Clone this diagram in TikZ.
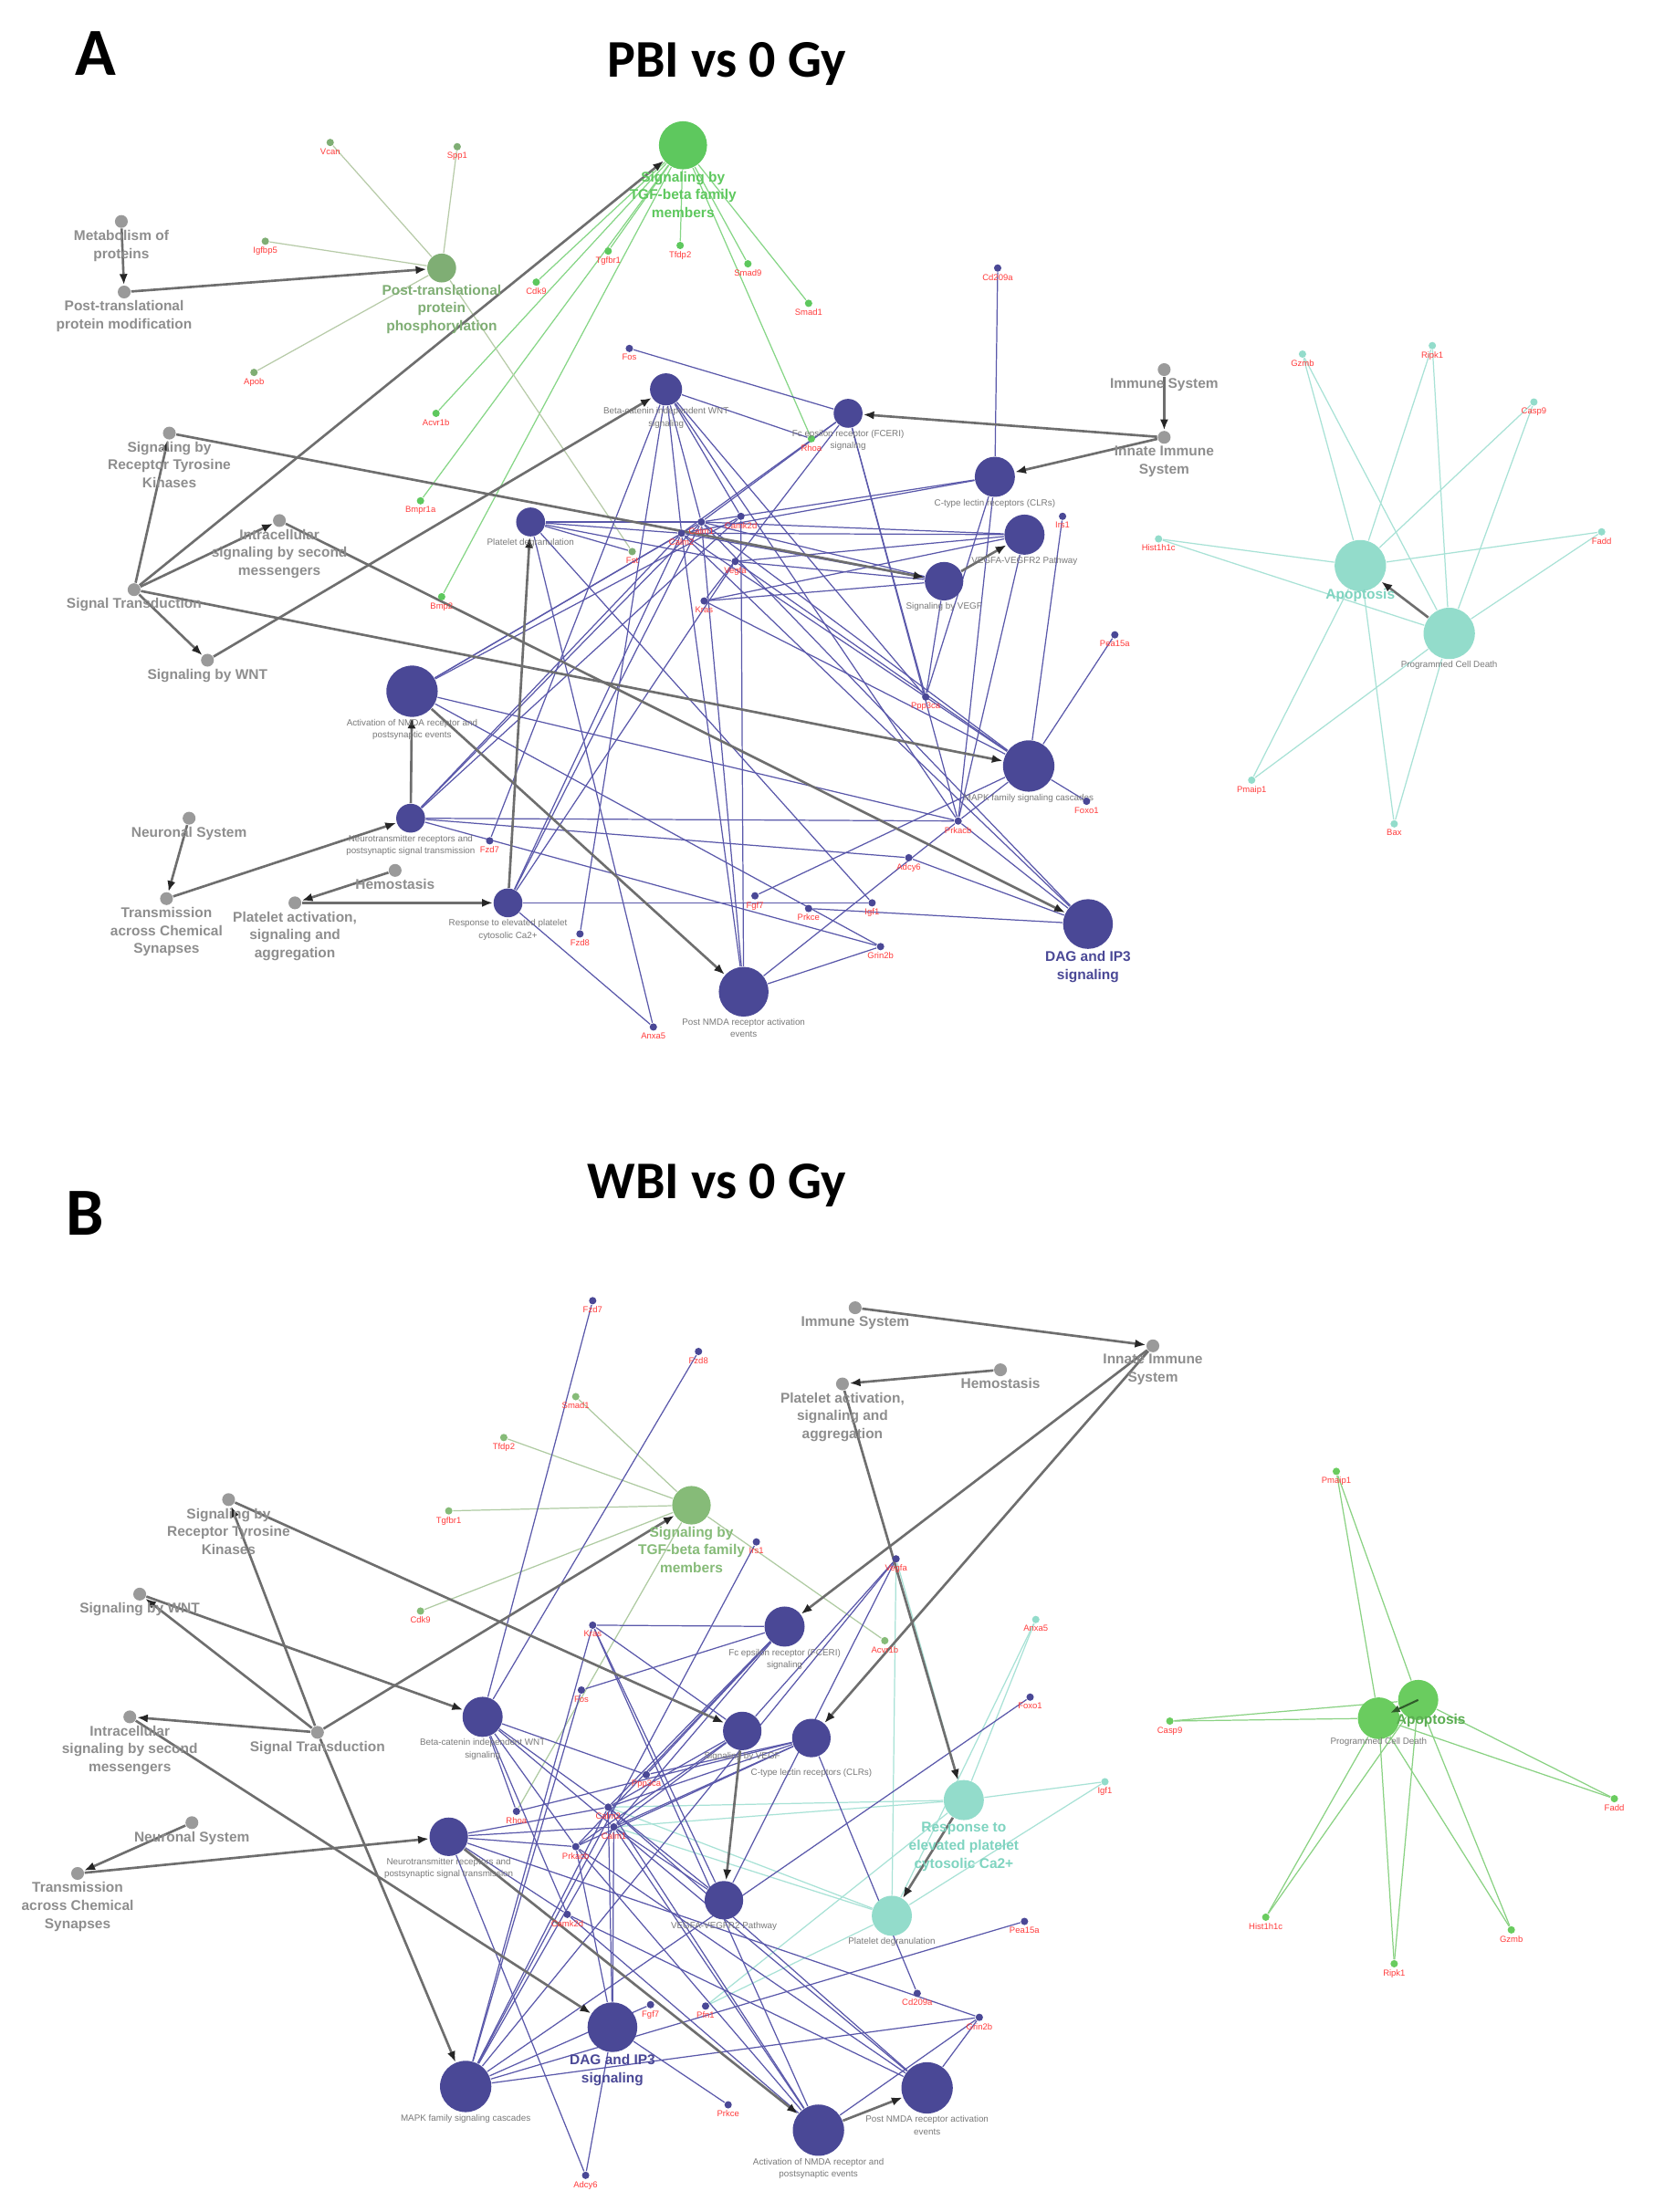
\documentclass[tikz,border=0pt]{standalone}
\usepackage{fontspec}
\setmainfont{Liberation Sans}
\newfontfamily\titlefont{Carlito}
\usetikzlibrary{arrows.meta,backgrounds}

\definecolor{greynode}{HTML}{9A9A9A}
\definecolor{greytxt}{HTML}{8E8E8E}
\definecolor{arrowgrey}{HTML}{6E6E6E}
\definecolor{pathw}{HTML}{4A4896}
\definecolor{pedgec}{HTML}{5A58AA}
\definecolor{genered}{HTML}{FF3C3C}
\definecolor{tgfgreen}{HTML}{5EC85E}
\definecolor{tgfedge}{HTML}{86D686}
\definecolor{ptpgreen}{HTML}{7FAE74}
\definecolor{ptpedge}{HTML}{B7CBA8}
\definecolor{apoteal}{HTML}{93DCCB}
\definecolor{tealtxt}{HTML}{7FD4C0}
\definecolor{tealedge}{HTML}{A8E2D6}
\definecolor{tgfolive}{HTML}{86BB78}
\definecolor{oliveedge}{HTML}{AFCBA2}
\definecolor{apogreen}{HTML}{6ACC5F}
\definecolor{apoedge}{HTML}{8AD283}

\begin{document}
\begin{tikzpicture}[x=0.01546cm,y=-0.01546cm,
  gdot/.style={circle,fill=greynode,inner sep=0pt,minimum size=4pt},
  pw/.style={circle,fill=pathw,inner sep=0pt,minimum size=#1},
  gn/.style={circle,fill=#1,inner sep=0pt,minimum size=2.3pt},
  glab/.style={font=\fontsize{4.4}{5.6}\selectfont\bfseries,text=greytxt,align=center,inner sep=0.3pt},
  blab/.style={font=\fontsize{4.4}{5.6}\selectfont\bfseries,text=#1,align=center,inner sep=0.3pt},
  slab/.style={font=\fontsize{2.8}{3.8}\selectfont,text=greytxt!85!black,align=center,inner sep=0.3pt},
  rlab/.style={font=\fontsize{2.7}{3}\selectfont,text=genered,inner sep=0.3pt},
  arr/.style={draw=arrowgrey,line width=0.75pt,-{Latex[length=3.4pt,width=2.6pt,color=black!85]}},
  pe/.style={draw=pedgec,line width=0.35pt},
  ge/.style={draw=#1,line width=0.35pt},
  ttl/.style={font=\titlefont\bfseries\fontsize{#1}{#1}\selectfont}]
\path[use as bounding box] (0,0) rectangle (1172,1568);

\node[ttl=21] (panA) at (68,38) {A};
\node[ttl=16.5] (titA) at (515,45) {PBI vs 0 Gy};
\node[ttl=21] (panB) at (60,860) {B};
\node[ttl=16.5] (titB) at (508,840) {WBI vs 0 Gy};

% panel A: grey hierarchy
\node[gdot,label={[glab]below:{Metabolism of\\proteins}}] (metaA) at (86,157) {};
\node[gdot,label={[glab]below:{Post-translational\\protein modification}}] (ptmA) at (88,207) {};
\node[gdot,label={[glab]below:{Signaling by\\Receptor Tyrosine\\Kinases}}] (rtkA) at (120,307) {};
\node[gdot,label={[glab]below:{Intracellular\\signaling by second\\messengers}}] (intraA) at (198,369) {};
\node[gdot,label={[glab]below:Signal Transduction}] (stA) at (95,418) {};
\node[gdot,label={[glab]below:Signaling by WNT}] (wntA) at (147,468) {};
\node[gdot,label={[glab]below:Neuronal System}] (neurA) at (134,580) {};
\node[gdot,label={[glab]below:{Transmission\\across Chemical\\Synapses}}] (transA) at (118,637) {};
\node[gdot,label={[glab]below:Hemostasis}] (hemoA) at (280,617) {};
\node[gdot,label={[glab]below:{Platelet activation,\\signaling and\\aggregation}}] (platA) at (209,640) {};
\node[gdot,label={[glab]below:Immune System}] (immA) at (825,262) {};
\node[gdot,label={[glab]below:{Innate Immune\\System}}] (innA) at (825,310) {};

% panel A: TGF-beta and phosphorylation
\node[circle,fill=tgfgreen,minimum size=15pt,inner sep=0pt,label={[blab=tgfgreen]below:{Signaling by\\TGF-beta family\\members}}] (tgfA) at (484,103) {};
\node[circle,fill=ptpgreen,minimum size=9pt,inner sep=0pt,label={[blab=ptpgreen]below:{Post-translational\\protein\\phosphorylation}}] (ptpA) at (313,190) {};
\node[gn=ptpgreen,label={[rlab]below:Vcan}] (vcanA) at (234,101) {};
\node[gn=ptpgreen,label={[rlab]below:Spp1}] (sppA) at (324,104) {};
\node[gn=ptpgreen,label={[rlab]below:Igfbp5}] (igfbpA) at (188,171) {};
\node[gn=ptpgreen,label={[rlab]below:Apob}] (apobA) at (180,264) {};
\node[gn=ptpgreen,label={[rlab]below:Fst}] (fstA) at (448,391) {};
\node[gn=tgfgreen,label={[rlab]below:Tgfbr1}] (tgfbrA) at (431,178) {};
\node[gn=tgfgreen,label={[rlab]below:Tfdp2}] (tfdpA) at (482,174) {};
\node[gn=tgfgreen,label={[rlab]below:Smad9}] (smadnA) at (530,187) {};
\node[gn=tgfgreen,label={[rlab]below:Smad1}] (smadoA) at (573,215) {};
\node[gn=tgfgreen,label={[rlab]below:Cdk9}] (cdkA) at (380,200) {};
\node[gn=tgfgreen,label={[rlab]below:Acvr1b}] (acvrA) at (309,293) {};
\node[gn=tgfgreen,label={[rlab]below:Bmpr1a}] (bmprA) at (298,355) {};
\node[gn=tgfgreen,label={[rlab]below:Bmp2}] (bmpA) at (313,423) {};
\node[gn=tgfgreen,label={[rlab]below:Rhoa}] (rhoaA) at (575,311) {};

% panel A: pathways
\node[pw=10pt,label={[slab]below:{Beta-catenin independent WNT\\signaling}}] (wntbA) at (472,276) {};
\node[pw=9pt,label={[slab]below:{Fc epsilon receptor (FCERI)\\signaling}}] (fcA) at (601,293) {};
\node[pw=12.5pt,label={[slab]below:C-type lectin receptors (CLRs)}] (clrA) at (705,338) {};
\node[pw=12.5pt,label={[slab]below:VEGFA-VEGFR2 Pathway}] (vegfrA) at (726,379) {};
\node[pw=12pt,label={[slab]below:Signaling by VEGF}] (vegfA) at (669,412) {};
\node[pw=9pt,label={[slab]below:Platelet degranulation}] (pdegA) at (376,370) {};
\node[pw=16pt,label={[slab]below:{Activation of NMDA receptor and\\postsynaptic events}}] (nmdaA) at (292,490) {};
\node[pw=9pt,label={[slab]below:{Neurotransmitter receptors and\\postsynaptic signal transmission}}] (neuroA) at (291,580) {};
\node[pw=9pt,label={[slab]below:{Response to elevated platelet\\cytosolic Ca2+}}] (respA) at (360,640) {};
\node[pw=16pt,label={[slab]below:MAPK family signaling cascades}] (mapkA) at (729,543) {};
\node[pw=15.5pt,label={[slab]below:{Post NMDA receptor activation\\events}}] (postA) at (527,703) {};
\node[pw=15.5pt,label={[blab=pathw]below:{DAG and IP3\\signaling}}] (dagA) at (771,655) {};

% panel A: genes
\node[gn=pathw,label={[rlab]below:Fos}] (fosA) at (446,247) {};
\node[gn=pathw,label={[rlab]below:Cd209a}] (cdA) at (707,190) {};
\node[gn=pathw,label={[rlab]below:Calm1}] (calmoneA) at (497,370) {};
\node[gn=pathw,label={[rlab]below:Calm2}] (calmtwoA) at (483,378) {};
\node[gn=pathw,label={[rlab]below:Camk2d}] (camkA) at (525,366) {};
\node[gn=pathw,label={[rlab]below:Vegfa}] (vegfaA) at (521,398) {};
\node[gn=pathw,label={[rlab]below:Kras}] (krasA) at (499,426) {};
\node[gn=pathw,label={[rlab]below:Irs1}] (irsA) at (753,366) {};
\node[gn=pathw,label={[rlab]below:Ppp3ca}] (pppA) at (656,494) {};
\node[gn=pathw,label={[rlab]below:Pea15a}] (peaA) at (790,450) {};
\node[gn=pathw,label={[rlab]below:Foxo1}] (foxoA) at (770,568) {};
\node[gn=pathw,label={[rlab]below:Prkacb}] (prkacbA) at (679,582) {};
\node[gn=pathw,label={[rlab]below:Fzd7}] (fzdsA) at (347,596) {};
\node[gn=pathw,label={[rlab]below:Adcy6}] (adcyA) at (644,608) {};
\node[gn=pathw,label={[rlab]below:Fgf7}] (fgfA) at (535,635) {};
\node[gn=pathw,label={[rlab]below:Prkce}] (prkceA) at (573,644) {};
\node[gn=pathw,label={[rlab]below:Igf1}] (igfA) at (618,640) {};
\node[gn=pathw,label={[rlab]below:Grin2b}] (grinA) at (624,671) {};
\node[gn=pathw,label={[rlab]below:Fzd8}] (fzdeA) at (411,662) {};
\node[gn=pathw,label={[rlab]below:Anxa5}] (anxaA) at (463,728) {};

% panel A: cell death
\node[circle,fill=apoteal,minimum size=16pt,inner sep=0pt,label={[blab=tealtxt,label distance=-1.5pt]below:Apoptosis}] (apoA) at (964,401) {};
\node[circle,fill=apoteal,minimum size=16pt,inner sep=0pt,label={[slab]below:Programmed Cell Death}] (pcdA) at (1027,449) {};
\node[gn=apoteal,label={[rlab]below:Gzmb}] (gzmbA) at (923,251) {};
\node[gn=apoteal,label={[rlab]below:Ripk1}] (ripkA) at (1015,245) {};
\node[gn=apoteal,label={[rlab]below:Casp9}] (caspA) at (1087,285) {};
\node[gn=apoteal,label={[rlab]below:Hist1h1c}] (histA) at (821,382) {};
\node[gn=apoteal,label={[rlab]below:Fadd}] (faddA) at (1135,377) {};
\node[gn=apoteal,label={[rlab]below:Pmaip1}] (pmaipA) at (887,553) {};
\node[gn=apoteal,label={[rlab]below:Bax}] (baxA) at (988,584) {};

% panel B: grey hierarchy
\node[gdot,label={[glab]below:Immune System}] (immB) at (606,927) {};
\node[gdot,label={[glab]below:{Innate Immune\\System}}] (innB) at (817,954) {};
\node[gdot,label={[glab]below:Hemostasis}] (hemoB) at (709,971) {};
\node[gdot,label={[glab]below:{Platelet activation,\\signaling and\\aggregation}}] (platB) at (597,981) {};
\node[gdot,label={[glab]below:{Signaling by\\Receptor Tyrosine\\Kinases}}] (rtkB) at (162,1063) {};
\node[gdot,label={[glab]below:Signaling by WNT}] (wntB) at (99,1130) {};
\node[gdot,label={[glab]below:{Intracellular\\signaling by second\\messengers}}] (intraB) at (92,1217) {};
\node[gdot,label={[glab]below:Signal Transduction}] (stB) at (225,1228) {};
\node[gdot,label={[glab]below:Neuronal System}] (neurB) at (136,1292) {};
\node[gdot,label={[glab]below:{Transmission\\across Chemical\\Synapses}}] (transB) at (55,1328) {};

% panel B: TGF-beta
\node[circle,fill=tgfolive,minimum size=12pt,inner sep=0pt,label={[blab=tgfolive]below:{Signaling by\\TGF-beta family\\members}}] (tgfB) at (490,1067) {};
\node[gn=tgfolive,label={[rlab]below:Smad1}] (smadB) at (408,990) {};
\node[gn=tgfolive,label={[rlab]below:Tfdp2}] (tfdpB) at (357,1019) {};
\node[gn=tgfolive,label={[rlab]below:Tgfbr1}] (tgfbrB) at (318,1071) {};
\node[gn=tgfolive,label={[rlab]below:Cdk9}] (cdkB) at (298,1142) {};
\node[gn=tgfolive,label={[rlab]below:Acvr1b}] (acvrB) at (627,1163) {};

% panel B: pathways
\node[pw=12.5pt,label={[slab]below:{Fc epsilon receptor (FCERI)\\signaling}}] (fcB) at (556,1153) {};
\node[pw=12.5pt,label={[slab]below:{Beta-catenin independent WNT\\signaling}}] (wntbB) at (342,1217) {};
\node[pw=12pt,label={[slab]below:Signaling by VEGF}] (vegfB) at (526,1227) {};
\node[pw=12pt,label={[slab,yshift=-3pt]below:C-type lectin receptors (CLRs)}] (clrB) at (575,1232) {};
\node[pw=12pt,label={[slab]below:{Neurotransmitter receptors and\\postsynaptic signal transmission}}] (neuroB) at (318,1302) {};
\node[pw=12pt,label={[slab]below:VEGFA-VEGFR2 Pathway}] (vegfrB) at (513,1347) {};
\node[pw=15.5pt,label={[blab=pathw]below:{DAG and IP3\\signaling}}] (dagB) at (434,1437) {};
\node[pw=16pt,label={[slab]below:MAPK family signaling cascades}] (mapkB) at (330,1479) {};
\node[pw=16pt,label={[slab]below:{Activation of NMDA receptor and\\postsynaptic events}}] (nmdaB) at (580,1510) {};
\node[pw=16pt,label={[slab]below:{Post NMDA receptor activation\\events}}] (postB) at (657,1480) {};
\node[circle,fill=apoteal,minimum size=12.5pt,inner sep=0pt,label={[blab=tealtxt]below:{Response to\\elevated platelet\\cytosolic Ca2+}}] (respB) at (683,1276) {};
\node[circle,fill=apoteal,minimum size=12.5pt,inner sep=0pt,label={[slab]below:Platelet degranulation}] (pdegB) at (632,1358) {};

% panel B: genes
\node[gn=pathw,label={[rlab]below:Fzd7}] (fzdsB) at (420,922) {};
\node[gn=pathw,label={[rlab]below:Fzd8}] (fzdeB) at (495,958) {};
\node[gn=pathw,label={[rlab]below:Irs1}] (irsB) at (536,1093) {};
\node[gn=pathw,label={[rlab]below:Vegfa}] (vegfaB) at (635,1105) {};
\node[gn=apoteal,label={[rlab]below:Anxa5}] (anxaB) at (734,1148) {};
\node[gn=pathw,label={[rlab]below:Foxo1}] (foxoB) at (730,1203) {};
\node[gn=apoteal,label={[rlab]below:Igf1}] (igfB) at (783,1263) {};
\node[gn=pathw,label={[rlab]below:Kras}] (krasB) at (420,1152) {};
\node[gn=pathw,label={[rlab]below:Fos}] (fosB) at (412,1198) {};
\node[gn=pathw,label={[rlab]below:Rhoa}] (rhoaB) at (366,1284) {};
\node[gn=pathw,label={[rlab]below:Ppp3ca}] (pppB) at (458,1258) {};
\node[gn=pathw,label={[rlab]below:Calm2}] (calmtwoB) at (431,1281) {};
\node[gn=pathw,label={[rlab]below:Calm1}] (calmoneB) at (435,1295) {};
\node[gn=pathw,label={[rlab]below:Prkacb}] (prkacbB) at (408,1309) {};
\node[gn=pathw,label={[rlab]below:Camk2d}] (camkB) at (402,1357) {};
\node[gn=pathw,label={[rlab]below:Pea15a}] (peaB) at (726,1362) {};
\node[gn=pathw,label={[rlab]below:Cd209a}] (cdB) at (650,1413) {};
\node[gn=pathw,label={[rlab]below:Grin2b}] (grinB) at (694,1430) {};
\node[gn=pathw,label={[rlab]below:Fgf7}] (fgfB) at (461,1421) {};
\node[gn=pathw,label={[rlab]below:Pfn1}] (pfnB) at (500,1422) {};
\node[gn=pathw,label={[rlab]below:Prkce}] (prkceB) at (516,1492) {};
\node[gn=pathw,label={[rlab]below:Adcy6}] (adcyB) at (415,1542) {};

% panel B: cell death
\node[circle,fill=apogreen,minimum size=13pt,inner sep=0pt,label={[slab,label distance=-1pt]below:Programmed Cell Death}] (pcdB) at (977,1218) {};
\node[circle,fill=apogreen,minimum size=12.5pt,inner sep=0pt,label={[blab=apogreen!85!black,label distance=-2.5pt,xshift=4pt]below:Apoptosis}] (apoB) at (1005,1205) {};
\node[gn=apogreen,label={[rlab]below:Pmaip1}] (pmaipB) at (947,1043) {};
\node[gn=apogreen,label={[rlab]below:Casp9}] (caspB) at (829,1220) {};
\node[gn=apogreen,label={[rlab]below:Fadd}] (faddB) at (1144,1275) {};
\node[gn=apogreen,label={[rlab]below:Hist1h1c}] (histB) at (897,1359) {};
\node[gn=apogreen,label={[rlab]below:Ripk1}] (ripkB) at (988,1392) {};
\node[gn=apogreen,label={[rlab]below:Gzmb}] (gzmbB) at (1071,1368) {};
\draw[draw=black!55!apogreen,line width=0.6pt,-{Latex[length=3pt,width=2.4pt]},shorten >=4pt] (apoB.center) -- (pcdB.center);

\begin{scope}[on background layer]
\fill[white] (0,0) rectangle (1172,1568);
% panel A edges
\foreach \g in {tgfbrA,tfdpA,smadnA,smadoA,cdkA,acvrA,bmprA,bmpA,rhoaA} \draw[ge=tgfedge] (tgfA) -- (\g);
\foreach \g in {vcanA,sppA,igfbpA,apobA,fstA} \draw[ge=ptpedge] (ptpA) -- (\g);
\foreach \g in {gzmbA,ripkA,caspA,histA,faddA,pmaipA,baxA} {
  \draw[ge=tealedge] (apoA) -- (\g);
  \draw[ge=tealedge] (pcdA) -- (\g);
}
\foreach \g in {calmoneA,calmtwoA,camkA,pppA,prkacbA,fzdsA,fzdeA,rhoaA} \draw[pe] (wntbA) -- (\g);
\foreach \g in {fosA,calmoneA,calmtwoA,krasA,pppA,prkacbA} \draw[pe] (fcA) -- (\g);
\foreach \g in {cdA,calmoneA,calmtwoA,pppA,prkacbA} \draw[pe] (clrA) -- (\g);
\foreach \g in {calmoneA,calmtwoA,vegfaA,krasA,prkacbA} \draw[pe] (vegfrA) -- (\g);
\foreach \g in {calmoneA,calmtwoA,vegfaA,krasA,pppA} \draw[pe] (vegfA) -- (\g);
\foreach \g in {calmoneA,calmtwoA,fstA,vegfaA,igfA,anxaA} \draw[pe] (pdegA) -- (\g);
\foreach \g in {calmoneA,calmtwoA,camkA,prkacbA,grinA} \draw[pe] (nmdaA) -- (\g);
\foreach \g in {calmoneA,calmtwoA,camkA,prkacbA,adcyA,grinA} \draw[pe] (neuroA) -- (\g);
\foreach \g in {calmoneA,calmtwoA,igfA,anxaA,vegfaA} \draw[pe] (respA) -- (\g);
\foreach \g in {calmoneA,calmtwoA,krasA,vegfaA,prkacbA,foxoA,peaA,fgfA,irsA} \draw[pe] (mapkA) -- (\g);
\foreach \g in {calmoneA,calmtwoA,camkA,prkacbA,grinA} \draw[pe] (postA) -- (\g);
\foreach \g in {calmoneA,calmtwoA,prkceA,adcyA,prkacbA} \draw[pe] (dagA) -- (\g);
\draw[arr] (metaA) -- (ptmA);
\draw[arr] (ptmA) -- (ptpA);
\foreach \t in {rtkA,intraA,wntA,tgfA,mapkA} \draw[arr] (stA) -- (\t);
\draw[arr] (rtkA) -- (vegfA);
\draw[arr] (intraA) -- (dagA);
\draw[arr] (wntA) -- (wntbA);
\draw[arr] (neuroA) -- (nmdaA);
\draw[arr] (nmdaA) -- (postA);
\draw[arr] (neurA) -- (transA);
\draw[arr] (transA) -- (neuroA);
\draw[arr] (hemoA) -- (platA);
\draw[arr] (platA) -- (respA);
\draw[arr] (respA) -- (pdegA);
\draw[arr] (immA) -- (innA);
\draw[arr] (innA) -- (fcA);
\draw[arr] (innA) -- (clrA);
\draw[arr] (vegfA) -- (vegfrA);
\draw[arr] (pcdA) -- (apoA);

% panel B edges
\foreach \g in {smadB,tfdpB,tgfbrB,cdkB,acvrB,rhoaB} \draw[ge=oliveedge] (tgfB) -- (\g);
\foreach \g in {pmaipB,caspB,faddB,histB,ripkB,gzmbB} {
  \draw[ge=apoedge] (apoB) -- (\g);
  \draw[ge=apoedge] (pcdB) -- (\g);
}
\foreach \g in {calmoneB,calmtwoB,igfB,anxaB,vegfaB,pfnB} {
  \draw[ge=tealedge] (respB) -- (\g);
  \draw[ge=tealedge] (pdegB) -- (\g);
}
\foreach \g in {fzdsB,fzdeB,calmoneB,calmtwoB,camkB,pppB,prkacbB,rhoaB} \draw[pe] (wntbB) -- (\g);
\foreach \g in {fosB,krasB,calmoneB,calmtwoB,pppB,prkacbB} \draw[pe] (fcB) -- (\g);
\foreach \g in {calmoneB,calmtwoB,krasB,vegfaB,prkacbB} \draw[pe] (vegfB) -- (\g);
\foreach \g in {cdB,calmoneB,calmtwoB,pppB,prkacbB,rhoaB} \draw[pe] (clrB) -- (\g);
\foreach \g in {calmoneB,calmtwoB,krasB,vegfaB} \draw[pe] (vegfrB) -- (\g);
\foreach \g in {calmoneB,calmtwoB,camkB,prkacbB,grinB,adcyB} \draw[pe] (neuroB) -- (\g);
\foreach \g in {calmoneB,calmtwoB,prkceB,prkacbB,adcyB} \draw[pe] (dagB) -- (\g);
\foreach \g in {calmoneB,calmtwoB,krasB,fosB,irsB,vegfaB,foxoB,peaB,fgfB,grinB} \draw[pe] (mapkB) -- (\g);
\foreach \g in {calmoneB,calmtwoB,camkB,grinB,prkacbB,krasB} \draw[pe] (nmdaB) -- (\g);
\foreach \g in {calmoneB,calmtwoB,camkB,grinB,prkacbB} \draw[pe] (postB) -- (\g);
\draw[arr] (immB) -- (innB);
\draw[arr] (hemoB) -- (platB);
\draw[arr] (platB) -- (respB);
\draw[arr] (respB) -- (pdegB);
\draw[arr] (innB) -- (fcB);
\draw[arr] (innB) -- (clrB);
\foreach \t in {rtkB,wntB,intraB,tgfB,mapkB} \draw[arr] (stB) -- (\t);
\draw[arr] (wntB) -- (wntbB);
\draw[arr] (rtkB) -- (vegfB);
\draw[arr] (intraB) -- (dagB);
\draw[arr] (neurB) -- (transB);
\draw[arr] (transB) -- (neuroB);
\draw[arr] (neuroB) -- (nmdaB);
\draw[arr] (nmdaB) -- (postB);
\draw[arr] (vegfB) -- (vegfrB);
\end{scope}
\end{tikzpicture}
\end{document}
